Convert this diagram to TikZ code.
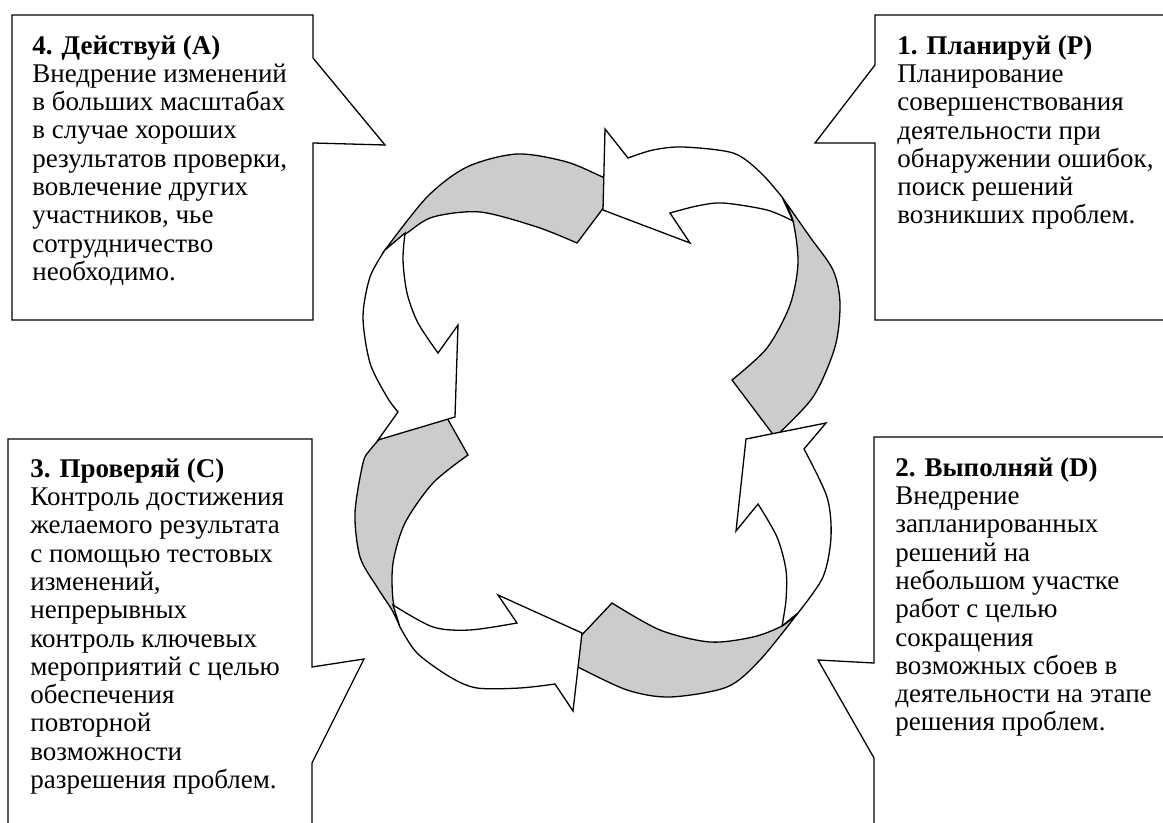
\documentclass[tikz,border=0pt]{standalone}
\usepackage{fontspec}
\setmainfont{Liberation Serif}
\definecolor{bandgray}{HTML}{CCCCCC}
\tikzset{
  outline/.style={draw=black, line width=0.65pt, line join=miter},
  backband/.style={outline, fill=bandgray},
  frontband/.style={outline, fill=white},
  callout/.style={draw=black, line width=0.65pt, fill=white},
  % the node is placed at the baseline of its last line
  calltext/.style={anchor=base west, inner sep=0pt, align=left,
    font=\fontsize{13.5}{14.15}\selectfont},
}
\begin{document}
\begin{tikzpicture}[x=0.5pt, y=-0.5pt]
\useasboundingbox (0,0) rectangle (1163,823);
\clip (0,0) rectangle (1163,823);
\fill[white] (0,0) rectangle (1163,823);

% ---- callout frames ----
\draw[callout] (12,15) -- (313,15) -- (313,58) -- (385,145) -- (313,143) -- (313,320) -- (12,320) -- cycle;
\draw[callout] (875,15) -- (1175,15) -- (1175,320) -- (875,320) -- (875,143) -- (815,143) -- (875,65) -- cycle;
\draw[callout] (8,439) -- (312,439) -- (312,667) -- (364,659) -- (312,763) -- (312,840) -- (8,840) -- cycle;
\draw[callout] (874,437) -- (1175,437) -- (1175,840) -- (874,840) -- (874,758) -- (818,660) -- (874,663) -- cycle;

% ---- callout texts ----
\node[calltext] (act) at (32,280.5) {\textbf{4. Действуй (A)}\\Внедрение изменений\\в больших масштабах\\в случае хороших\\результатов проверки,\\вовлечение других\\участников, чье\\сотрудничество\\необходимо.};
\node[calltext] (plan) at (897,224) {\textbf{1. Планируй (P)}\\Планирование\\совершенствования\\деятельности при\\обнаружении ошибок,\\поиск решений\\возникших проблем.};
\node[calltext] (check) at (30,788.5) {\textbf{3. Проверяй (C)}\\Контроль достижения\\желаемого результата\\с помощью тестовых\\изменений,\\непрерывных\\контроль ключевых\\мероприятий с целью\\обеспечения\\повторной\\возможности\\разрешения проблем.};
\node[calltext] (do) at (895,731) {\textbf{2. Выполняй (D)}\\Внедрение\\запланированных\\решений на\\небольшом участке\\работ с целью\\сокращения\\возможных сбоев в\\деятельности на этапе\\решения проблем.};

% ---- back (shaded) parts of the four curved arrows ----
% top-left
\draw[backband] (577,243) -- (622,183)
  -- plot[smooth] coordinates {(622,183) (605,178) (567,162) (517,154) (467,167) (427,197) (385,250)}
  -- plot[smooth] coordinates {(385,250) (407,233) (433,217) (480,212) (537,227) (577,243)}
  -- cycle;
% bottom-left
\draw[backband] (468,455) -- (438,402) -- (385,433)
  -- plot[smooth] coordinates {(385,433) (370,450) (363,463) (355,513) (360,557) (377,587) (392,610) (400,627)}
  -- plot[smooth] coordinates {(400,627) (393,600) (393,563) (405,523) (433,483) (468,455)}
  -- cycle;
% bottom-right
\draw[backband] (612,603) -- (560,658) -- (578,667)
  -- plot[smooth] coordinates {(578,667) (627,690) (670,697) (727,687) (760,660) (798,613)}
  -- plot[smooth] coordinates {(798,613) (782,626) (753,637) (710,642) (660,630) (612,603)}
  -- cycle;
% top-right
\draw[backband] (732,380) -- (775,437)
  -- plot[smooth] coordinates {(775,437) (813,397) (835,347) (840,303) (833,270) (810,237) (782,197)}
  -- plot[smooth] coordinates {(782,197) (793,221) (798,263) (790,305) (767,348) (732,380)}
  -- cycle;

% ---- front (white) parts with arrowheads ----
% left band, head pointing down
\draw[frontband] (385,250)
  -- plot[smooth] coordinates {(385,250) (370,277) (363,317) (370,363) (387,397) (398,412)}
  -- (378,440) -- (455,417) -- (458,325) -- (438,353)
  -- plot[smooth] coordinates {(438,353) (418,323) (407,293) (403,260) (405,233)}
  -- cycle;
% bottom band, head pointing right
\draw[frontband] (400,627)
  -- plot[smooth] coordinates {(400,627) (417,653) (450,677) (477,688) (520,688) (555,684)}
  -- (573,711) -- (582,633) -- (498,595) -- (517,623)
  -- plot[smooth] coordinates {(517,623) (470,630) (433,627) (393,605)}
  -- cycle;
% right band, head pointing up
\draw[frontband] (798,613)
  -- plot[smooth] coordinates {(798,613) (823,577) (831,537) (827,497) (804,449)}
  -- (826,423) -- (746,439) -- (736,531) -- (758,504)
  -- plot[smooth] coordinates {(758,504) (777,537) (786,570) (786,600) (782,626)}
  -- cycle;
% top band, head pointing left
\draw[frontband] (782,197)
  -- plot[smooth] coordinates {(782,197) (760,172) (733,153) (683,147) (653,150) (628,158)}
  -- (605,129) -- (603,210) -- (690,243) -- (670,213)
  -- plot[smooth] coordinates {(670,213) (697,206) (723,203) (767,210) (793,221)}
  -- cycle;
\end{tikzpicture}
\end{document}
